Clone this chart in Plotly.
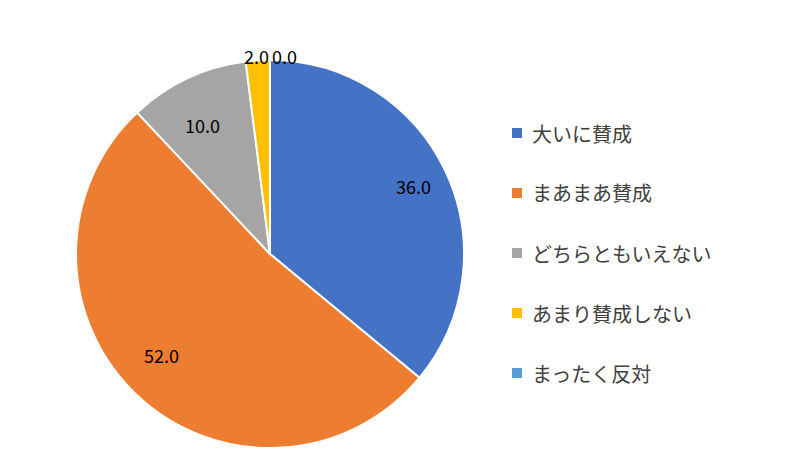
import math
import plotly.graph_objects as go

labels = ['大いに賛成', 'まあまあ賛成', 'どちらともいえない', 'あまり賛成しない', 'まったく反対']
values = [36.0, 52.0, 10.0, 2.0, 0.0]
colors = ['#4472C4', '#ED7D31', '#A5A5A5', '#FFC000', '#5B9BD5']

W, H = 800, 462
cx, cy, R = 262, 246, 194  # pie centre and radius in pixels

fig = go.Figure(go.Pie(
    labels=labels, values=values, sort=False, direction='clockwise', rotation=0,
    marker=dict(colors=colors, line=dict(color='white', width=2)),
    textinfo='none', hoverinfo='label+value',
    showlegend=False,
    domain=dict(x=[(cx - R) / W, (cx + R) / W], y=[1 - (cy + R) / H, 1 - (cy - R) / H]),
))

# data labels, placed at mid angle of each slice (Excel style)
total = sum(values)
cum = 0
for v in values:
    mid = (cum + v / 2) / total * 2 * math.pi
    cum += v
    share = v / total
    rf = 0.82 if share > 0.05 else 1.1
    px = cx + rf * R * math.sin(mid)
    py = cy - rf * R * math.cos(mid)
    anchor = 'left' if share == 0 else 'center'
    fig.add_annotation(x=px / W, y=1 - py / H, xref='paper', yref='paper',
                       text=f'{v:.1f}', showarrow=False, xanchor=anchor,
                       font=dict(size=18, color='black', family='Noto Sans CJK JP'))

# legend drawn by hand to get Excel-like spacing
for i, (lab, col) in enumerate(zip(labels, colors)):
    yy = 1 - (125 + 60 * i) / H
    fig.add_shape(type='rect', xref='paper', yref='paper',
                  x0=504 / W, x1=514 / W, y0=yy - 5 / H, y1=yy + 5 / H,
                  fillcolor=col, line=dict(width=0))
    fig.add_annotation(x=522 / W, y=yy, xref='paper', yref='paper', text=lab,
                       showarrow=False, xanchor='left', yanchor='middle',
                       font=dict(size=20, color='#404040', family='Noto Sans CJK JP'))

fig.update_layout(width=W, height=H, margin=dict(l=0, r=0, t=0, b=0),
                  paper_bgcolor='white', plot_bgcolor='white')
fig.write_html('out.html')
